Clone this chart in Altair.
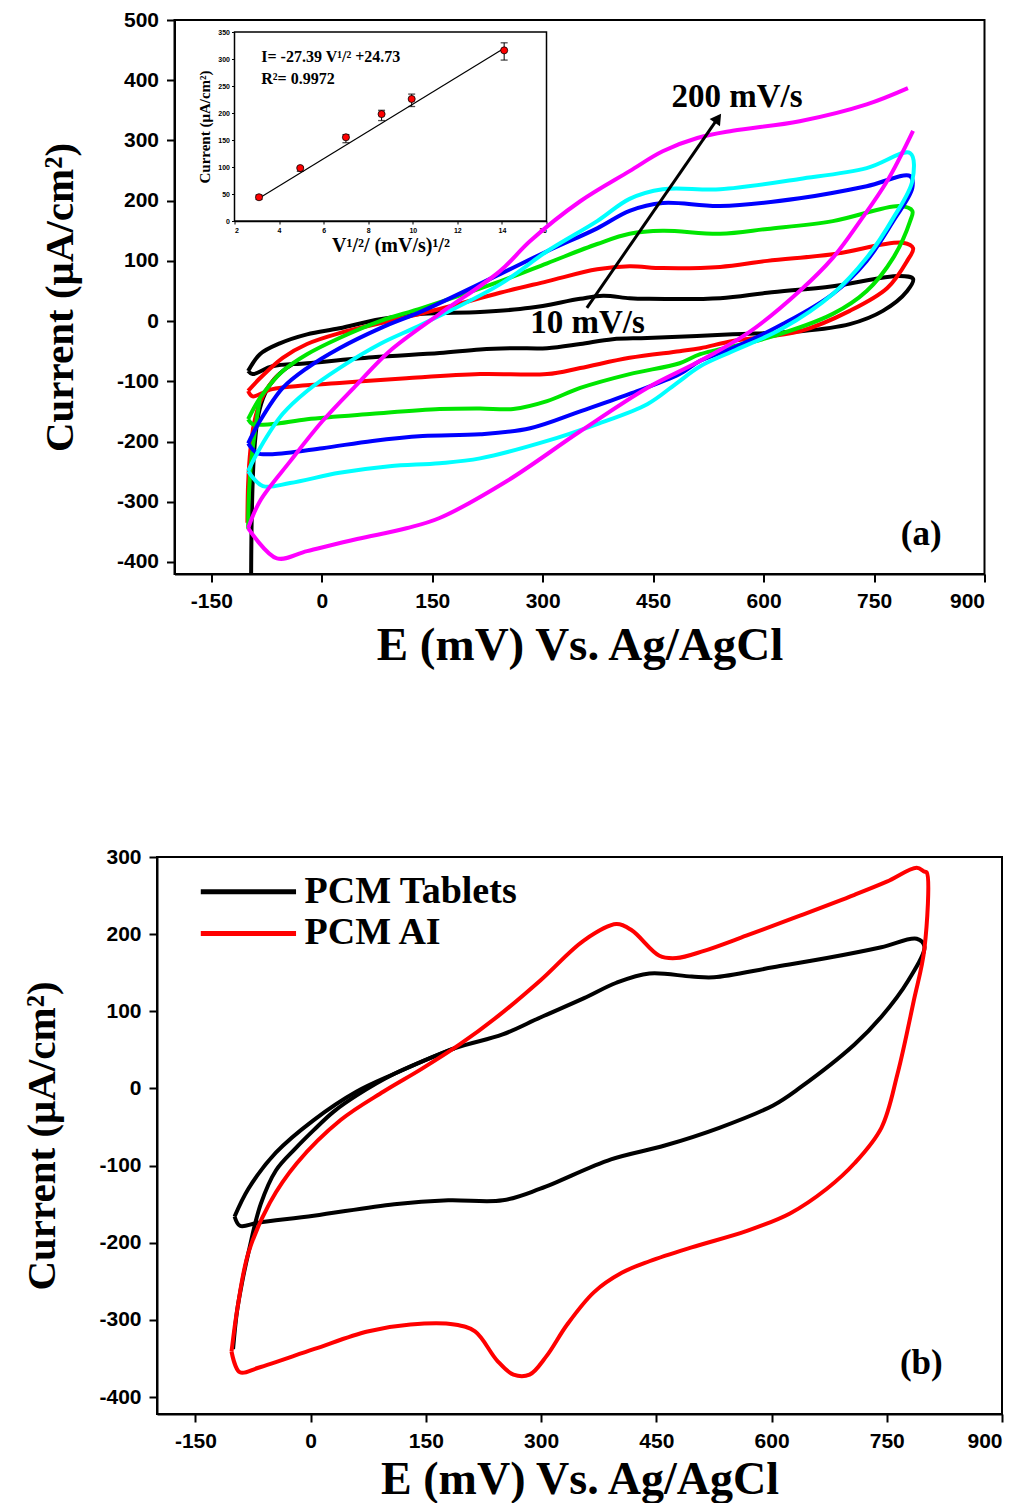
import altair as alt
import pandas as pd

# ---------------- Panel (a): CVs at different scan rates ----------------
A_RATES = ["10 mV/s", "25 mV/s", "50 mV/s", "75 mV/s", "100 mV/s", "200 mV/s"]
A_COLORS = ["#000000", "#ff0000", "#00e600", "#0000ff", "#00ffff", "#ff00ff"]

A10_TAIL_E = [-96, -95, -92, -86, -77, -65, -50, -35]
A10_TAIL_I = [-440, -320, -220, -155, -120, -97, -80, -68]
A10_LOOP_E = [-100, -84, -57, -20, 24, 79, 137, 215, 283, 351, 382, 418, 442, 541, 605, 694, 785, 803,
              795, 762, 717, 649, 558, 442, 395, 351, 306, 260, 215, 160, 69, -20, -67, -94, -100]
A10_LOOP_I = [-83, -55, -37, -22, -12, 3, 12, 15, 22, 37, 42, 38, 37, 38, 47, 58, 75, 70,
              50, 17, -5, -17, -22, -28, -30, -38, -45, -45, -47, -53, -60, -70, -75, -88, -83]

A25_TAIL_E = [-101, -100, -97, -92, -84, -72, -58]
A25_TAIL_I = [-335, -270, -215, -170, -135, -108, -88]
A25_LOOP_E = [-100, -84, -53, -20, 24, 92, 160, 242, 306, 374, 418, 463, 541, 605, 694, 789, 803,
              795, 768, 717, 649, 558, 514, 486, 418, 351, 306, 215, 115, 24, -67, -94, -100]
A25_LOOP_I = [-116, -95, -61, -38, -20, 0, 20, 47, 66, 86, 91, 88, 90, 100, 111, 130, 121,
              100, 55, 17, -17, -33, -45, -50, -61, -78, -88, -88, -95, -103, -113, -125, -116]

A50_TAIL_E = [-100, -99, -96, -91, -84]
A50_TAIL_I = [-345, -290, -235, -185, -128]
A50_LOOP_E = [-100, -84, -53, -20, 24, 79, 137, 242, 306, 374, 418, 463, 541, 605, 694, 785, 802,
              799, 776, 740, 694, 605, 514, 486, 418, 351, 306, 260, 215, 160, 69, -20, -67, -94, -100]
A50_LOOP_I = [-163, -128, -83, -55, -28, 0, 22, 66, 96, 128, 145, 150, 145, 153, 166, 191, 183,
              166, 105, 50, 12, -28, -55, -70, -88, -111, -133, -146, -145, -146, -154, -163, -171, -171, -163]

A75_LOOP_E = [-100, -84, -53, -20, 24, 79, 137, 242, 306, 374, 418, 463, 541, 649, 740, 799,
              802, 776, 740, 694, 626, 558, 514, 486, 418, 351, 283, 215, 137, 69, 1, -67, -88, -100]
A75_LOOP_I = [-203, -166, -111, -78, -45, -12, 17, 78, 116, 154, 183, 196, 191, 204, 224, 241,
              221, 166, 100, 45, -5, -45, -66, -88, -121, -150, -178, -188, -191, -199, -211, -221, -219, -203]

A100_LOOP_E = [-100, -84, -53, -20, 24, 79, 137, 242, 306, 374, 418, 463, 541, 649, 740, 799,
               802, 776, 740, 694, 626, 558, 514, 480, 442, 374, 306, 215, 160, 92, 24, -43, -80, -100]
A100_LOOP_I = [-249, -211, -154, -116, -78, -38, -5, 61, 116, 166, 203, 219, 219, 236, 254, 279,
               233, 171, 105, 45, -12, -50, -75, -105, -138, -171, -199, -228, -236, -241, -252, -269, -274, -249]

A200_UP_E = [-100, -84, -43, 1, 48, 92, 160, 242, 283, 351, 418, 463, 510, 558, 649, 740, 796]
A200_UP_I = [-344, -299, -233, -166, -105, -50, 12, 83, 133, 199, 249, 282, 304, 316, 332, 360, 387]
A200_DN_E = [803, 768, 731, 694, 649, 582, 514, 442, 351, 251, 160, 115, 48, -20, -61, -100]
A200_DN_I = [316, 233, 166, 105, 50, -17, -66, -111, -183, -266, -327, -344, -362, -382, -394, -344]

A_SEGMENTS = [
    [(A10_TAIL_E, A10_TAIL_I), (A10_LOOP_E, A10_LOOP_I)],
    [(A25_TAIL_E, A25_TAIL_I), (A25_LOOP_E, A25_LOOP_I)],
    [(A50_TAIL_E, A50_TAIL_I), (A50_LOOP_E, A50_LOOP_I)],
    [(A75_LOOP_E, A75_LOOP_I)],
    [(A100_LOOP_E, A100_LOOP_I)],
    [(A200_UP_E, A200_UP_I), (A200_DN_E, A200_DN_I)],
]

ARROW_E = [360, 538]
ARROW_I = [22, 337]
A_RATE_LABELS = ["10 mV/s", "200 mV/s"]
A_RATE_E = [361, 564]
A_RATE_I = [-3, 372]
A_TAG = ["(a)"]
A_TAG_E = [814]
A_TAG_I = [-354]

# inset: peak current vs sqrt(scan rate)
IN_X = [3.1, 4.95, 7.0, 8.6, 9.95, 14.1]
IN_Y = [44, 98, 155, 198, 226, 316]
IN_LO = [40, 92, 145, 186, 212, 298]
IN_HI = [48, 100, 160, 205, 235, 330]
FIT_X = [3.1, 14.1]
FIT_Y = [42, 320]
IN_TEXT = ["I= -27.39 V\u00b9/\u00b2 +24.73", "R\u00b2= 0.9972"]
IN_TEXT_X = [3.2, 3.2]
IN_TEXT_Y = [304, 263]

# ---------------- Panel (b): PCM tablets vs PCM AI ----------------
B_TAB_TAIL_E = [-101, -96, -89, -81, -65, -45, -20, 4, 30, 60, 109, 187]
B_TAB_TAIL_I = [-338, -290, -250, -213, -150, -106, -78, -54, -30, -9, 19, 52]
B_TAB_LOOP_E = [-99, -81, -45, 4, 60, 109, 187, 250, 299, 356, 398, 441, 496, 525, 602, 672, 743, 789, 799,
                778, 743, 708, 637, 602, 532, 461, 391, 299, 250, 179, 109, 4, -68, -92, -99]
B_TAB_LOOP_I = [-166, -130, -83, -41, -4, 19, 52, 70, 92, 117, 137, 149, 145, 144, 157, 169, 183, 194, 184,
                140, 93, 57, 1, -22, -51, -74, -92, -130, -145, -145, -150, -165, -174, -178, -166]

B_AI_E = [-103, -95, -81, -53, -18, 39, 95, 144, 194, 243, 299, 356, 398, 418, 454, 476, 511, 567, 637, 708, 750,
          789, 799, 802, 799, 785, 764, 743, 708, 672, 624, 567, 496, 441, 405, 369, 334, 307, 285, 264, 243,
          214, 187, 130, 74, 4, -68, -92, -103]
B_AI_I = [-341, -283, -213, -148, -97, -41, -4, 25, 57, 93, 140, 192, 213, 205, 172, 169, 178, 198, 224, 251, 268,
          286, 281, 280, 181, 113, 19, -51, -97, -130, -162, -185, -206, -224, -239, -264, -306, -347, -371, -371, -353,
          -315, -306, -306, -315, -338, -362, -368, -341]

B_NAMES = ["PCM Tablets", "PCM AI"]
B_COLORS = ["#000000", "#ff0000"]
B_LEG_I = [255, 201]
B_LEG_E0 = [-143, -143]
B_LEG_E1 = [-19, -19]
B_LEG_TX = [-8, -8]
B_TAG = ["(b)"]
B_TAG_E = [795]
B_TAG_I = [-356]

X_TICKS = [-150, 0, 150, 300, 450, 600, 750, 900]

SERIF = "Liberation Serif"
SANS = "Liberation Sans"


def main_axis(title, values, title_pad, title_size):
    return alt.Axis(title=title, values=values, grid=False, domainColor="black", domainWidth=2,
                    tickColor="black", tickWidth=2, tickSize=8, labelColor="black", labelFont=SANS,
                    labelFontSize=21, labelFontWeight="bold", labelPadding=8, labelOverlap=False,
                    labelExpr="'' + datum.value",
                    titleFont=SERIF, titleFontSize=title_size, titleFontWeight="bold", titleColor="black",
                    titlePadding=title_pad)


def build_df(segments, name):
    rows = []
    for si, (es, is_) in enumerate(segments):
        for k, (e, i) in enumerate(zip(es, is_)):
            rows.append({"E": e, "I": i, "seg": f"{name}-{si}", "k": k})
    return pd.DataFrame(rows)


XA_AXIS = main_axis("E (mV) Vs. Ag/AgCl", X_TICKS, 11, 47)
XB_AXIS = main_axis("E (mV) Vs. Ag/AgCl", X_TICKS, 6, 46)

# ---- panel (a) ----
ax_scale = alt.Scale(domain=[-200, 900], nice=False, zero=False)
ay_scale = alt.Scale(domain=[-420, 500], nice=False, zero=False)
AX = alt.X("E:Q", scale=ax_scale, axis=XA_AXIS)
AY = alt.Y("I:Q", scale=ay_scale, axis=main_axis("Current (\u03bcA/cm\u00b2)", list(range(-400, 501, 100)), 35, 41))

a_layers = []
for name, col, segs in zip(A_RATES, A_COLORS, A_SEGMENTS):
    a_layers.append(
        alt.Chart(build_df(segs, name)).mark_line(strokeWidth=4, interpolate="catmull-rom", clip=True,
                                                  color=col, strokeJoin="round")
        .encode(x=AX, y=AY, detail="seg:N", order="k:Q")
    )

arrow_df = pd.DataFrame({"E": ARROW_E, "I": ARROW_I, "k": [0, 1]})
a_layers.append(alt.Chart(arrow_df).mark_line(color="black", strokeWidth=3).encode(x=AX, y=AY, order="k:Q"))
a_layers.append(alt.Chart(arrow_df.iloc[[1]]).mark_point(shape="triangle-up", angle=35, filled=True,
                                                        color="black", size=160, opacity=1)
                .encode(x=AX, y=AY))
rate_df = pd.DataFrame({"E": A_RATE_E, "I": A_RATE_I, "t": A_RATE_LABELS})
a_layers.append(alt.Chart(rate_df).mark_text(font=SERIF, fontSize=33, fontWeight="bold", color="black")
                .encode(x=AX, y=AY, text="t:N"))
atag_df = pd.DataFrame({"E": A_TAG_E, "I": A_TAG_I, "t": A_TAG})
a_layers.append(alt.Chart(atag_df).mark_text(font=SERIF, fontSize=35, fontWeight="bold", color="black")
                .encode(x=AX, y=AY, text="t:N"))
main_a = alt.layer(*a_layers)

# inset
ix_scale = alt.Scale(domain=[2, 16], range=[60, 372], nice=False, zero=False)
iy_scale = alt.Scale(domain=[0, 350], range=[201, 12], nice=False, zero=False)
IX_AXIS = alt.Axis(title="V\u00b9/\u00b2/ (mV/s)\u00b9/\u00b2", values=list(range(2, 17, 2)), orient="bottom",
                   offset=-353, grid=False, domainColor="black", domainWidth=1.5, tickColor="black",
                   tickSize=3, tickWidth=1, labelColor="black", labelFont=SANS, labelFontSize=7,
                   labelFontWeight="bold", labelPadding=2, titleFont=SERIF, titleFontSize=20,
                   titleFontWeight="bold", titleColor="black", titlePadding=2)
IY_AXIS = alt.Axis(title="Current (\u03bcA/cm\u00b2)", values=list(range(0, 351, 50)), orient="left",
                   offset=-60, grid=False, domainColor="black", domainWidth=1.5, tickColor="black",
                   tickSize=3, tickWidth=1, labelColor="black", labelFont=SANS, labelFontSize=7,
                   labelFontWeight="bold", labelPadding=2, titleFont=SERIF, titleFontSize=15,
                   titleFontWeight="bold", titleColor="black", titlePadding=5)
IX = alt.X("x:Q", scale=ix_scale, axis=IX_AXIS)
IY = alt.Y("y:Q", scale=iy_scale, axis=IY_AXIS)

box_df = pd.DataFrame({"x": [2], "x2": [16], "y": [0], "y2": [350]})
inset_box = alt.Chart(box_df).mark_rect(fill="white", stroke="black", strokeWidth=1.5).encode(
    x=IX, x2="x2:Q", y=IY, y2="y2:Q")
fit_df = pd.DataFrame({"x": FIT_X, "y": FIT_Y})
inset_fit = alt.Chart(fit_df).mark_line(color="black", strokeWidth=1.2).encode(x=IX, y=IY)
err_df = pd.DataFrame({"x": IN_X, "y": IN_LO, "y2": IN_HI})
inset_err = alt.Chart(err_df).mark_rule(color="black", strokeWidth=1).encode(x=IX, y=IY, y2="y2:Q")
cap_df = pd.DataFrame({"x": IN_X + IN_X, "y": IN_LO + IN_HI})
inset_cap = alt.Chart(cap_df).mark_tick(orient="horizontal", color="black", size=7, thickness=1.3).encode(x=IX, y=IY)
pt_df = pd.DataFrame({"x": IN_X, "y": IN_Y})
inset_pts = alt.Chart(pt_df).mark_point(filled=True, fill="#ff0000", stroke="black", strokeWidth=0.8,
                                        size=50, opacity=1).encode(x=IX, y=IY)
itxt_df = pd.DataFrame({"x": IN_TEXT_X, "y": IN_TEXT_Y, "t": IN_TEXT})
inset_txt = alt.Chart(itxt_df).mark_text(font=SERIF, fontSize=16, fontWeight="bold", color="black",
                                         align="left").encode(x=IX, y=IY, text="t:N")
inset = alt.layer(inset_box, inset_fit, inset_err, inset_cap, inset_pts, inset_txt)

panel_a = alt.layer(main_a, inset).resolve_scale(x="independent", y="independent").properties(
    width=810, height=554)

# ---- panel (b) ----
bx_scale = alt.Scale(domain=[-200, 900], nice=False, zero=False)
by_scale = alt.Scale(domain=[-422, 300], nice=False, zero=False)
BX = alt.X("E:Q", scale=bx_scale, axis=XB_AXIS)
BY = alt.Y("I:Q", scale=by_scale, axis=main_axis("Current (\u03bcA/cm\u00b2)", list(range(-400, 301, 100)), 35, 41))

b_tab = alt.Chart(build_df([(B_TAB_TAIL_E, B_TAB_TAIL_I), (B_TAB_LOOP_E, B_TAB_LOOP_I)], "tab")).mark_line(
    strokeWidth=4, interpolate="catmull-rom", clip=True, color=B_COLORS[0], strokeJoin="round").encode(
    x=BX, y=BY, detail="seg:N", order="k:Q")
b_ai = alt.Chart(build_df([(B_AI_E, B_AI_I)], "ai")).mark_line(
    strokeWidth=4, interpolate="catmull-rom", clip=True, color=B_COLORS[1], strokeJoin="round").encode(
    x=BX, y=BY, detail="seg:N", order="k:Q")

leg_df = pd.DataFrame({"E": B_LEG_E0, "E2": B_LEG_E1, "I": B_LEG_I, "TX": B_LEG_TX, "name": B_NAMES,
                       "col": B_COLORS})
b_leg_lines = alt.Chart(leg_df).mark_rule(strokeWidth=5).encode(
    x=BX, x2="E2:Q", y=BY, color=alt.Color("col:N", scale=None))
b_leg_text = alt.Chart(leg_df).mark_text(font=SERIF, fontSize=38, fontWeight="bold", color="black",
                                         align="left").encode(x=alt.X("TX:Q", scale=bx_scale, axis=XB_AXIS),
                                                              y=BY, text="name:N")
tag_df = pd.DataFrame({"E": B_TAG_E, "I": B_TAG_I, "t": B_TAG})
b_tag = alt.Chart(tag_df).mark_text(font=SERIF, fontSize=35, fontWeight="bold", color="black").encode(
    x=BX, y=BY, text="t:N")

panel_b = alt.layer(b_tab, b_ai, b_leg_lines, b_leg_text, b_tag).properties(width=845, height=557)

chart = alt.vconcat(panel_a, panel_b, spacing=176, center=True).configure_view(
    stroke="black", strokeWidth=2).properties(
    padding={"left": 20, "top": 8, "right": 5, "bottom": 0}, background="white")

chart.save("out.html", embed_options={"renderer": "svg", "actions": False})
